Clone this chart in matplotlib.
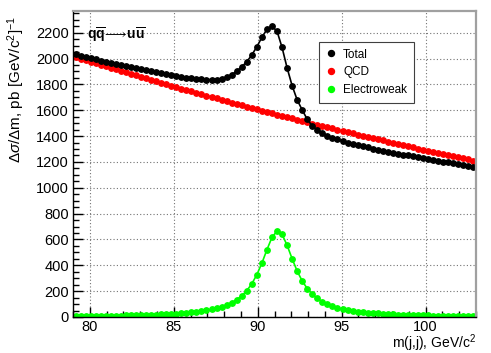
import numpy as np
import matplotlib
matplotlib.use('Agg')
import matplotlib.pyplot as plt
from matplotlib.lines import Line2D
from matplotlib.ticker import MultipleLocator

plt.rcParams['font.family'] = ['Liberation Sans', 'DejaVu Sans']
plt.rcParams['mathtext.fontset'] = 'custom'
plt.rcParams['mathtext.rm'] = 'Liberation Sans'
plt.rcParams['mathtext.it'] = 'Liberation Sans:italic'
plt.rcParams['mathtext.bf'] = 'Liberation Sans:bold'

# histogram binning of m(j,j): 80 bins of 0.3 GeV between 79 and 103
n_bins = 80
m_lo, m_hi = 79.0, 103.0
edges = np.linspace(m_lo, m_hi, n_bins + 1)
mass = 0.5 * (edges[:-1] + edges[1:])

# d(sigma)/dm values, pb / (GeV/c^2)
total = [2032, 2022, 2012, 2002, 1993, 1984, 1975, 1966, 1957, 1948,
         1940, 1932, 1924, 1916, 1908, 1900, 1893, 1886, 1879, 1872,
         1865, 1859, 1853, 1848, 1844, 1840, 1838, 1837, 1838, 1845,
         1857, 1876, 1902, 1936, 1976, 2028, 2092, 2164, 2226, 2250,
         2212, 2086, 1928, 1790, 1680, 1602, 1530, 1478, 1446, 1422,
         1404, 1388, 1374, 1361, 1350, 1340, 1330, 1321, 1312, 1303,
         1295, 1287, 1279, 1271, 1264, 1257, 1250, 1243, 1236, 1229,
         1222, 1216, 1209, 1203, 1197, 1191, 1185, 1178, 1171, 1164]

qcd = [2012, 2000, 1988, 1976, 1964, 1952, 1940, 1928, 1917, 1905,
       1893, 1882, 1870, 1859, 1847, 1836, 1824, 1813, 1802, 1791,
       1779, 1768, 1757, 1746, 1735, 1724, 1714, 1703, 1692, 1681,
       1671, 1660, 1650, 1639, 1629, 1618, 1608, 1598, 1587, 1577,
       1567, 1557, 1547, 1537, 1527, 1517, 1507, 1497, 1488, 1478,
       1468, 1459, 1449, 1440, 1430, 1421, 1412, 1402, 1393, 1384,
       1375, 1366, 1357, 1348, 1339, 1330, 1321, 1312, 1304, 1295,
       1286, 1278, 1269, 1261, 1253, 1244, 1236, 1228, 1219, 1211]

electroweak = [6.9, 7.2, 7.6, 8.0, 8.5, 8.9, 9.5, 10.0, 10.7, 11.3,
               12.1, 12.9, 13.8, 14.8, 16.0, 17.2, 18.6, 20.2, 22.0, 24.1,
               26.4, 29.1, 32.3, 35.9, 40.3, 45.4, 51.5, 58.9, 67.9, 79.1,
               93.1, 111.0, 134.0, 164.2, 204.1, 257.4, 327.7, 417.2, 520.8, 616.6,
               664.9, 639.6, 555.1, 450.8, 355.4, 278.7, 220.2, 176.3, 143.2, 118.1,
               98.6, 83.4, 71.4, 61.7, 53.8, 47.3, 41.9, 37.3, 33.4, 30.1,
               27.3, 24.8, 22.7, 20.8, 19.1, 17.7, 16.4, 15.2, 14.1, 13.2,
               12.3, 11.6, 10.9, 10.2, 9.6, 9.1, 8.6, 8.2, 7.7, 7.3]

fig = plt.figure(figsize=(4.91, 3.53), dpi=100)
ax = fig.add_axes([73 / 491, 1 - 317 / 353, 403 / 491, 306.5 / 353])

ms = 3.9
ax.plot(mass, qcd, '-o', color='#ff0000', ms=ms, lw=1.0, mec='#ff0000')
ax.plot(mass, total, '-o', color='black', ms=ms, lw=1.2)
ax.plot(mass, electroweak, '-o', color='#00ff00', ms=ms, lw=1.2, mec='#00ff00')

ax.set_xlim(m_lo, m_hi)
ax.set_ylim(0, 2372)
ax.xaxis.set_major_locator(MultipleLocator(5))
ax.xaxis.set_minor_locator(MultipleLocator(1))
ax.yaxis.set_major_locator(MultipleLocator(200))
ax.yaxis.set_minor_locator(MultipleLocator(50))
ax.tick_params(which='both', direction='in', top=False, right=False, labelsize=10.5, width=1)
ax.tick_params(which='major', length=7, pad=3)
ax.tick_params(axis='x', which='major', pad=2)
ax.tick_params(which='minor', length=4)
ax.grid(True, which='major', color='0.45', linestyle=(0, (1, 2)), lw=0.8)
ax.set_axisbelow(True)

for side in ['top', 'right']:
    ax.spines[side].set_color('#a0a0a0')
    ax.spines[side].set_linewidth(1.6)
for side in ['left', 'bottom']:
    ax.spines[side].set_linewidth(1.0)

handles = [Line2D([], [], ls='none', marker='o', ms=4.3, color=c, mec=c)
           for c in ['black', '#ff0000', '#00ff00']]
leg = ax.legend(handles, ['Total', 'QCD', 'Electroweak'], loc='upper left',
                bbox_to_anchor=(0.61, 0.897), borderaxespad=0, fontsize=8.5,
                fancybox=False, edgecolor='0.25', framealpha=1, handlelength=0.9,
                handletextpad=0.6, labelspacing=0.5, borderpad=0.55)
leg.get_frame().set_linewidth(0.8)

ax.text(0.035, 0.92, r'$\mathbf{q\overline{q}}\!\longrightarrow\!\mathbf{u\overline{u}}$',
        transform=ax.transAxes, fontsize=10, ha='left', va='center')

fig.text(476 / 491, 1 - 348 / 353, 'm(j,j), GeV/c$^{2}$', ha='right', va='baseline', fontsize=10)
fig.text(16 / 491, 1 - 16 / 353, r'$\Delta\sigma/\Delta$m, pb [GeV/c$^{2}$]$^{-1}$', rotation=90,
         ha='center', va='top', fontsize=11)

fig.savefig('out.png', dpi=100)
